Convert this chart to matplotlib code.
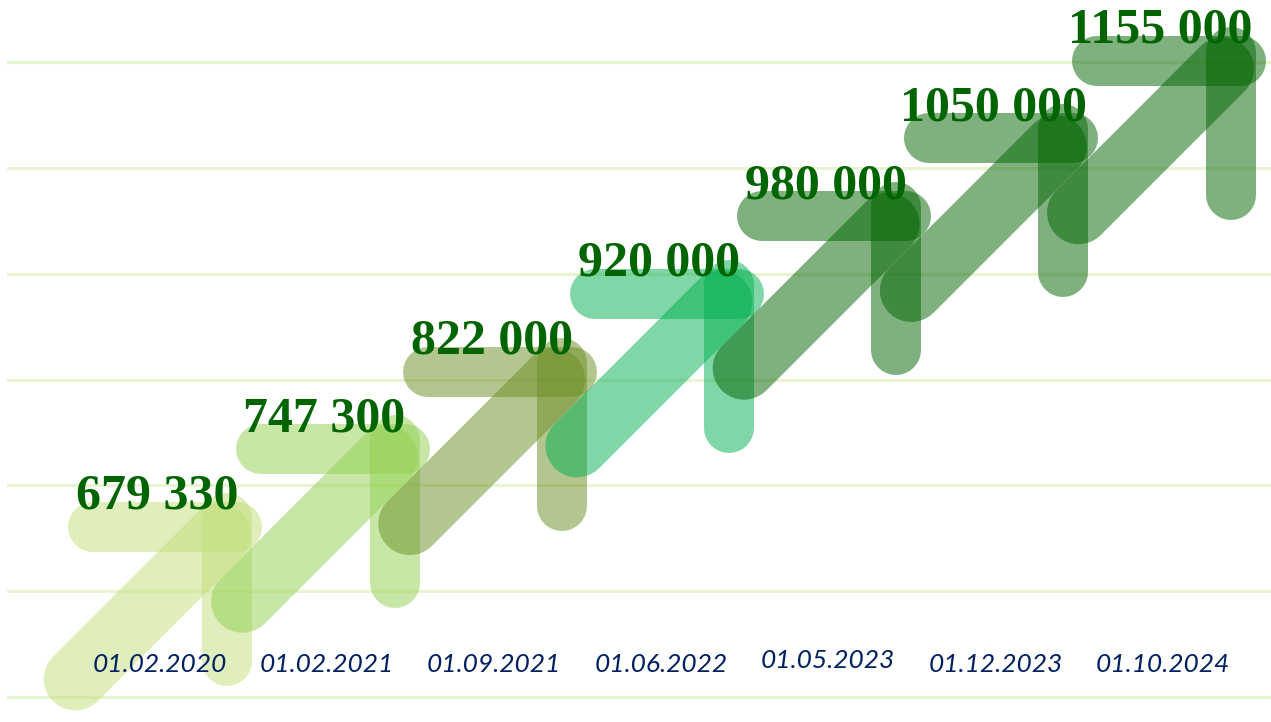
import matplotlib
matplotlib.use("Agg")
import matplotlib.pyplot as plt
from matplotlib.transforms import IdentityTransform

# ---- data ----
dates = ["01.02.2020", "01.02.2021", "01.09.2021", "01.06.2022",
         "01.05.2023", "01.12.2023", "01.10.2024"]
values = [679330, 747300, 822000, 920000, 980000, 1050000, 1155000]
steps = list(range(len(values)))          # stepped infographic position (rank)

colors = ["#c0df78", "#92d050", "#6b8e23", "#00b050",
          "#006400", "#006400", "#006400"]

W, H, DPI = 1271, 722, 100
fig = plt.figure(figsize=(W / DPI, H / DPI), dpi=DPI)
fig.patch.set_facecolor("white")

# background gridlines axes
gax = fig.add_axes([0, 0, 1, 1])
gax.set_xlim(0, 1)
gax.set_ylim(-25 / 105.8, (H - 25) / 105.8)
for k in range(7):
    gax.axhline(k, xmin=8 / W, xmax=1, color="#e9f4d3", lw=2.2, zorder=0)
gax.axis("off")

# main axes: x = category index, y = step index
ax = fig.add_axes([0, 0, 1, 1])
ax.set_xlim(-1.3595, 6.2422)
ax.set_ylim(-2.5097, 6.7825)
ax.axis("off")
ax.patch.set_alpha(0)

px2pt = 72 / DPI
bar_lw = 50 * px2pt
diag_lw = 63 * px2pt
ident = IdentityTransform()


def fmt(v):
    s = f"{v:,}".replace(",", " ")
    # original shows millions without a separator after the first digit
    if v >= 1_000_000:
        s = s.replace(" ", "", 1)
    return s


for i, (v, d, c) in enumerate(zip(values, dates, colors)):
    cx, cy = ax.transData.transform((i, steps[i]))
    kw = dict(color=c, alpha=0.5, solid_capstyle="round", transform=ident)
    # diagonal shaft
    ax.plot([cx - 152, cx - 8], [cy - 152, cy - 8], lw=diag_lw, zorder=2 + i, **kw)
    # horizontal bar
    ax.plot([cx - 134, cx + 10], [cy, cy], lw=bar_lw, zorder=2 + i, **kw)
    # vertical bar
    ax.plot([cx, cx], [cy + 9, cy - 134], lw=bar_lw, zorder=2 + i, **kw)
    # value label
    ax.text(cx - 70, cy + 18, fmt(v), transform=ident, ha="center", va="baseline",
            fontsize=36, fontweight="bold", family=["Liberation Serif", "DejaVu Serif"],
            color="#006400", zorder=20)
    # date label
    ax.text(cx - 68, H - 665 if i != 4 else H - 661, d, transform=ident,
            ha="center", va="center", fontsize=19, fontstyle="italic",
            family=["Lato", "DejaVu Sans"], color="#002060", zorder=20)

fig.savefig("out.png", dpi=DPI)
